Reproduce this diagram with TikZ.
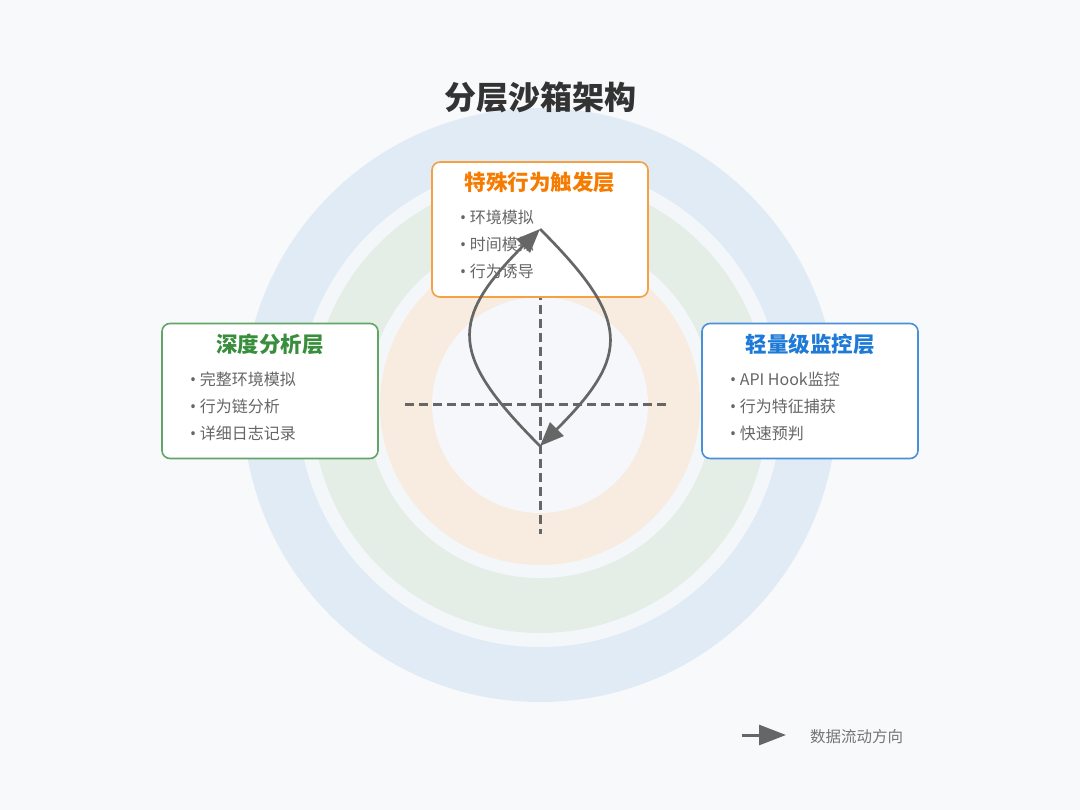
\documentclass[tikz,border=0pt]{standalone}
\usepackage{fontspec}
\setmainfont{Noto Sans CJK SC}
\newfontfamily\bulfont{Noto Sans}
\usetikzlibrary{arrows.meta}
\definecolor{bgc}{HTML}{F7F9FB}
\definecolor{gapc}{HTML}{F4F7FA}
\definecolor{ringblue}{HTML}{E1EBF6}
\definecolor{ringgreen}{HTML}{E4EEE6}
\definecolor{ringorange}{HTML}{F8EBE0}
\definecolor{innerc}{HTML}{F5F7FA}
\definecolor{lineg}{HTML}{666666}
\definecolor{textg}{HTML}{666666}
\definecolor{titlec}{HTML}{333333}
\definecolor{obord}{HTML}{F5A041}
\definecolor{otitle}{HTML}{F57C00}
\definecolor{gbord}{HTML}{62A566}
\definecolor{gtitle}{HTML}{388E3C}
\definecolor{bbord}{HTML}{4A90D9}
\definecolor{btitle}{HTML}{1E7AD6}
\tikzset{
  layerbox/.style={draw=#1, line width=1.6pt, fill=white, rounded corners=8pt,
    minimum width=216pt, minimum height=135pt, inner sep=0pt},
  boxtitle/.style={text=#1, font=\fontsize{21.5}{25}\selectfont\bfseries, inner sep=0pt},
  item/.style={text=textg, font=\fontsize{16}{19}\selectfont, anchor=west, inner sep=0pt},
  crossline/.style={draw=lineg, line width=3pt, dash pattern=on 9pt off 5pt},
  flow/.style={draw=lineg, line width=2.7pt, -{Triangle[length=24pt,width=19pt]}},
  legflow/.style={draw=lineg, line width=3pt, -{Triangle[length=27pt,width=20pt]}},
}
\newcommand{\bul}{{\bulfont •}\ }
\begin{document}
\begin{tikzpicture}[x=1pt,y=-1pt]
\useasboundingbox (0,0) rectangle (1080,810);
\fill[bgc] (0,0) rectangle (1080,810);
% rings
\fill[ringblue] (540,405) circle (297pt);
\fill[gapc] (540,405) circle (242pt);
\fill[ringgreen] (540,405) circle (228pt);
\fill[gapc] (540,405) circle (173pt);
\fill[ringorange] (540,405) circle (160pt);
\fill[innerc] (540,405) circle (108pt);
% title
\node[text=titlec, font=\fontsize{32}{38}\selectfont\bfseries, inner sep=0pt] (title) at (540,97) {分层沙箱架构};
% cross
\coordinate (hl) at (405,405);
\coordinate (hr) at (670,405);
\coordinate (vt) at (540,277);
\coordinate (vb) at (540,534);
\draw[crossline] (hl) -- (hr);
\draw[crossline] (vt) -- (vb);
% boxes
\node[layerbox=obord] (trig) at (540,229.5) {};
\node[boxtitle=otitle] (trigt) at (540,182) {特殊行为触发层};
\node[item] (trig1) at (460,217) {\bul 环境模拟};
\node[item] (trig2) at (460,244) {\bul 时间模拟};
\node[item] (trig3) at (460,271) {\bul 行为诱导};

\node[layerbox=gbord] (deep) at (270,391) {};
\node[boxtitle=gtitle] (deept) at (270,344) {深度分析层};
\node[item] (deep1) at (190,379) {\bul 完整环境模拟};
\node[item] (deep2) at (190,406) {\bul 行为链分析};
\node[item] (deep3) at (190,433) {\bul 详细日志记录};

\node[layerbox=bbord] (light) at (810,391) {};
\node[boxtitle=btitle] (lightt) at (810,344) {轻量级监控层};
\node[item] (light1) at (730,379) {\bul API Hook监控};
\node[item] (light2) at (730,406) {\bul 行为特征捕获};
\node[item] (light3) at (730,433) {\bul 快速预判};
% flow curves
\coordinate (ctop) at (540,229);
\coordinate (cbot) at (540,446);
\draw[flow] (cbot) .. controls (449,355) and (449,320) .. (ctop);
\draw[flow] (ctop) .. controls (631,320) and (631,355) .. (cbot);
% legend
\coordinate (leg1) at (742,735);
\coordinate (leg2) at (786,735);
\draw[legflow] (leg1) -- (leg2);
\node[text=textg!90, font=\fontsize{15.5}{18}\selectfont, anchor=west, inner sep=0pt] (legt) at (810,737) {数据流动方向};
\end{tikzpicture}
\end{document}
